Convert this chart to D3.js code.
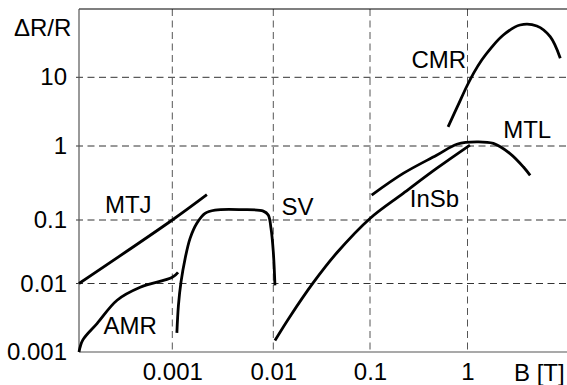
<!DOCTYPE html>
<html>
<head>
<meta charset="utf-8">
<script src="https://cdn.jsdelivr.net/npm/d3@7"></script>
<style>
  body { margin: 0; background: #fff; }
  text { font-family: "Liberation Sans", Arial, sans-serif; fill: #000; }
</style>
</head>
<body>
<div id="chart-container"></div>
<script>
// tick values and labels
const xTicks = [0.001, 0.01, 0.1, 1];
const xTickLabels = ["0.001", "0.01", "0.1", "1"];
const yTicks = [0.001, 0.01, 0.1, 1, 10];
const yTickLabels = ["0.001", "0.01", "0.1", "1", "10"];

// curves: [B in T, dR/R]
const mtj = [[0.0001, 0.01], [0.001, 0.1], [0.0022, 0.22]];
const amr = [[0.0001, 0.001], [0.00011, 0.0015], [0.000156, 0.0026], [0.000256, 0.0057],
  [0.000453, 0.0088], [0.001, 0.0125], [0.00114, 0.015]];
const sv = [[0.00111, 0.0019], [0.00115, 0.0048], [0.00122, 0.0106], [0.00134, 0.0248],
  [0.0015, 0.0514], [0.00175, 0.0887], [0.00211, 0.123], [0.00265, 0.136], [0.00486, 0.138],
  [0.00796, 0.132], [0.00891, 0.117], [0.00949, 0.074], [0.01, 0.0316], [0.0104, 0.0094]];
const insb = [[0.0104, 0.00147], [0.0149, 0.0033], [0.0259, 0.0103], [0.0452, 0.0302],
  [0.1, 0.105], [0.219, 0.229], [0.482, 0.497], [1.06, 1.03]];
const mtl = [[0.104, 0.217], [0.219, 0.426], [0.482, 0.75], [0.79, 1.07], [1.24, 1.15],
  [1.84, 1.09], [2.73, 0.79], [3.75, 0.52], [4.39, 0.40]];
const cmr = [[0.632, 1.9], [0.796, 3.86], [0.984, 7.41], [1.16, 11.6], [1.40, 17.9],
  [1.74, 26.8], [2.33, 41.6], [3.46, 58.3], [5.14, 56.4], [7.05, 39.3], [8.95, 19]];

// curve labels: name, B, dR/R (baseline)
const curveLabels = [
  ["MTJ", 0.000337, 0.124],
  ["AMR", 0.000353, 0.00183],
  ["SV", 0.0178, 0.117],
  ["InSb", 0.459, 0.15],
  ["CMR", 0.508, 13.7],
  ["MTL", 4.09, 1.31]
];

function drawChart() {
  const width = 567, height = 385;

  const svg = d3.select("#chart-container").append("svg")
    .attr("width", width)
    .attr("height", height);

  // piecewise log scales (decades are not evenly spaced in the original)
  const x = d3.scaleLog()
    .domain([1e-4, 1e-3, 1e-2, 1e-1, 1, 10])
    .range([79, 172.3, 273.3, 370, 467.5, 565]);
  const y = d3.scaleLog()
    .domain([1e-3, 1e-2, 1e-1, 1, 10, 100])
    .range([352, 283.5, 220, 146, 77.3, 9]);

  const x0 = x.range()[0], x1 = width;
  const y0 = y.range()[0], y1 = y.range()[5];

  // grid lines
  svg.selectAll(".xgrid")
    .data(xTicks)
    .join("line")
    .attr("x1", d => x(d)).attr("x2", d => x(d))
    .attr("y1", y1).attr("y2", y0)
    .attr("stroke", "#555")
    .attr("stroke-width", 1)
    .attr("stroke-dasharray", "7,4.5");

  svg.selectAll(".ygrid")
    .data(yTicks.slice(1))
    .join("line")
    .attr("x1", x0 - 3).attr("x2", x1)
    .attr("y1", d => y(d)).attr("y2", d => y(d))
    .attr("stroke", "#333")
    .attr("stroke-width", 1)
    .attr("stroke-dasharray", "7,4.5");

  // frame
  svg.append("line")
    .attr("x1", x0).attr("x2", x1).attr("y1", y1).attr("y2", y1)
    .attr("stroke", "#000").attr("stroke-width", 1.2);
  svg.append("line")
    .attr("x1", x0).attr("x2", x1).attr("y1", y0).attr("y2", y0)
    .attr("stroke", "#555").attr("stroke-width", 1.2);
  svg.append("line")
    .attr("x1", x0).attr("x2", x0).attr("y1", y1).attr("y2", y0)
    .attr("stroke", "#555").attr("stroke-width", 1.2);

  // x tick labels
  svg.append("g")
    .attr("transform", `translate(0, ${y0})`)
    .style("font-size", "24px")
    .call(d3.axisBottom(x).tickValues(xTicks).tickSize(0).tickPadding(11)
      .tickFormat((d, i) => xTickLabels[i]))
    .call(g => g.select(".domain").remove())
    .selectAll("text")
    .attr("fill", "#000")
    .style("font-family", "'Liberation Sans', Arial, sans-serif");

  // y tick labels
  svg.append("g")
    .attr("transform", `translate(${x0}, 0)`)
    .style("font-size", "24px")
    .call(d3.axisLeft(y).tickValues(yTicks).tickSize(0).tickPadding(12)
      .tickFormat((d, i) => yTickLabels[i]))
    .call(g => g.select(".domain").remove())
    .selectAll("text")
    .attr("fill", "#000")
    .style("font-family", "'Liberation Sans', Arial, sans-serif");

  // axis titles
  svg.append("text")
    .attr("x", 14).attr("y", 36)
    .style("font-size", "24px")
    .text("\u0394R/R");
  svg.append("text")
    .attr("x", 514).attr("y", 381)
    .style("font-size", "24px")
    .text("B [T]");

  // curves
  const line = d3.line()
    .x(d => x(d[0]))
    .y(d => y(d[1]))
    .curve(d3.curveCatmullRom.alpha(0.5));

  svg.selectAll(".curve")
    .data([mtj, amr, sv, insb, mtl, cmr])
    .join("path")
    .attr("class", "curve")
    .attr("fill", "none")
    .attr("stroke", "#000")
    .attr("stroke-width", 2.8)
    .attr("stroke-linecap", "butt")
    .attr("d", line);

  // curve labels
  svg.selectAll(".clabel")
    .data(curveLabels)
    .join("text")
    .attr("class", "clabel")
    .attr("x", d => x(d[1]))
    .attr("y", d => y(d[2]))
    .attr("text-anchor", "middle")
    .style("font-size", "24px")
    .text(d => d[0]);
}

drawChart();
</script>
</body>
</html>
